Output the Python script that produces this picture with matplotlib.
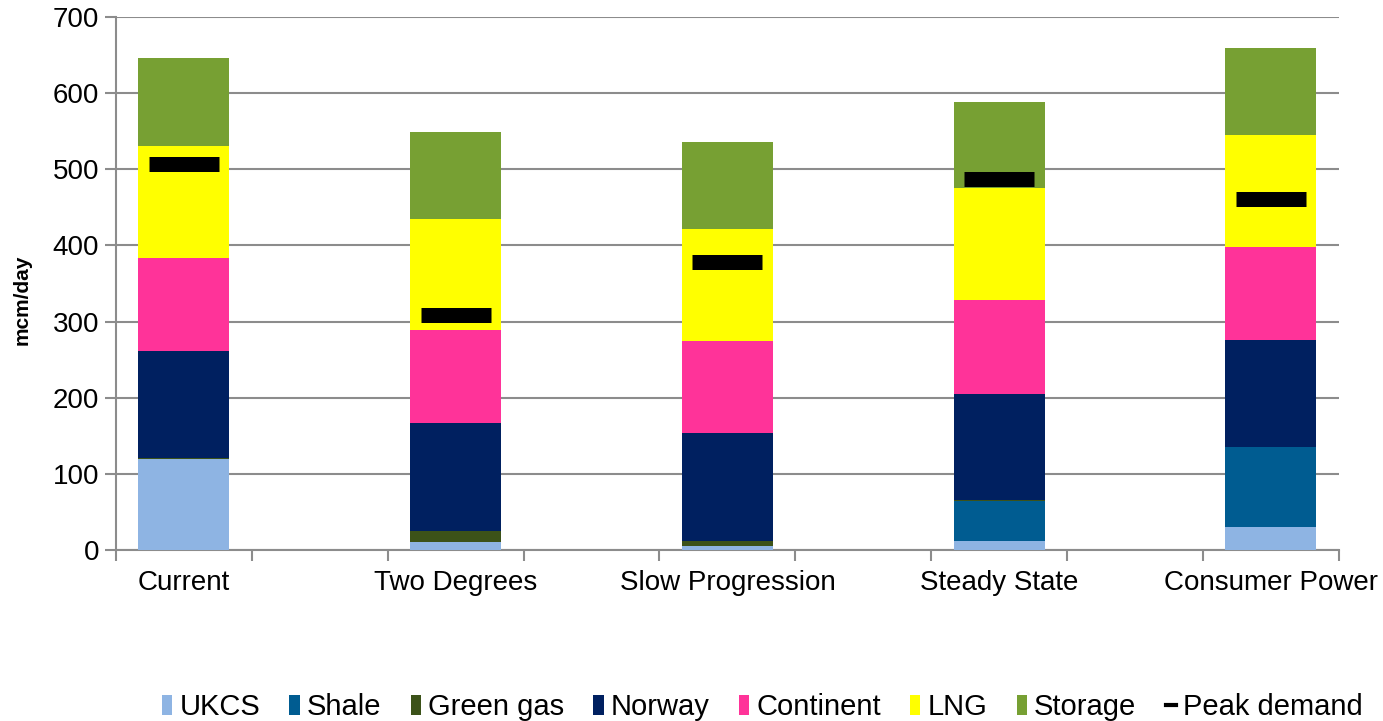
import numpy as np
import matplotlib
matplotlib.use("Agg")
import matplotlib.pyplot as plt
from matplotlib.patches import Patch
from matplotlib.lines import Line2D

#------------------------------Data--------------------------------------------
categories = ["Current", "", "Two Degrees", "", "Slow Progression", "",
              "Steady State", "", "Consumer Power"]
scenarios = ["Current", "Two Degrees", "Slow Progression", "Steady State", "Consumer Power"]

ukcs      = [120, 11, 5, 12, 30]
shale     = [0, 0, 0, 53, 106]
green_gas = [1, 14, 7, 1, 0]
norway    = [141, 142, 142, 139, 140]
continent = [122, 122, 121, 123, 122]
lng       = [146, 146, 147, 147, 147]
storage   = [116, 114, 114, 113, 114]
peak_demand = [507, 309, 378, 487, 461]

series_names = ["UKCS", "Shale", "Green gas", "Norway", "Continent", "LNG", "Storage"]
series_values = [ukcs, shale, green_gas, norway, continent, lng, storage]
colors = ["#8EB4E3", "#005C91", "#3C5219", "#002060", "#FF3399", "#FFFF00", "#77A033"]
#------------------------------------------------------------------------------

plt.rcParams["font.family"] = ["Liberation Sans", "DejaVu Sans"]

fig = plt.figure(figsize=(13.83, 7.21), dpi=100)
ax = fig.add_axes([0.0839, 0.237, 0.968 - 0.0839, 0.9764 - 0.237])

# every scenario sits on every other category slot
x = np.array([categories.index(s) for s in scenarios])

bottom = np.zeros(len(scenarios))
for name, vals, col in zip(series_names, series_values, colors):
    ax.bar(x, vals, width=0.67, bottom=bottom, color=col, zorder=3, label=name)
    bottom += np.array(vals)

ax.plot(x, peak_demand, linestyle="none", marker="_", ms=51, mew=10.8,
        color="black", zorder=4)

#------------------------------Axes styling------------------------------------
grid_col = "#8C8C8C"
ax.set_ylim(0, 700)
ax.set_xlim(-0.5, len(categories) - 0.5)
ax.set_yticks(np.arange(0, 701, 100))
ax.yaxis.grid(True, color=grid_col, linewidth=1.5, zorder=0)
ax.set_axisbelow(True)

ax.set_xticks(np.arange(len(categories)))
ax.set_xticklabels(categories)
ax.set_xticks(np.arange(len(categories) + 1) - 0.5, minor=True)
ax.tick_params(axis="x", which="major", length=0, labelsize=20, pad=14)
ax.tick_params(axis="x", which="minor", length=8, width=1.5, color=grid_col)
ax.tick_params(axis="y", length=8, width=1.5, color=grid_col, labelsize=20, pad=4)

for side in ["top", "right"]:
    ax.spines[side].set_visible(False)
for side in ["left", "bottom"]:
    ax.spines[side].set_color(grid_col)
    ax.spines[side].set_linewidth(1.5)

ax.set_ylabel("mcm/day", fontsize=15, fontweight="bold")
ax.yaxis.set_label_coords(-0.069, 0.469)

# legend along the bottom
handles = [Patch(facecolor=c, edgecolor="none") for c in colors]
handles.append(Line2D([], [], color="black", linewidth=3))
labels = series_names + ["Peak demand"]
fig.legend(handles, labels, loc="center", bbox_to_anchor=(0.5513, 0.019), ncol=8,
           frameon=False, fontsize=21, handlelength=0.35, handleheight=0.7,
           handletextpad=0.25, columnspacing=1.0)

fig.savefig("out.png", dpi=100)
